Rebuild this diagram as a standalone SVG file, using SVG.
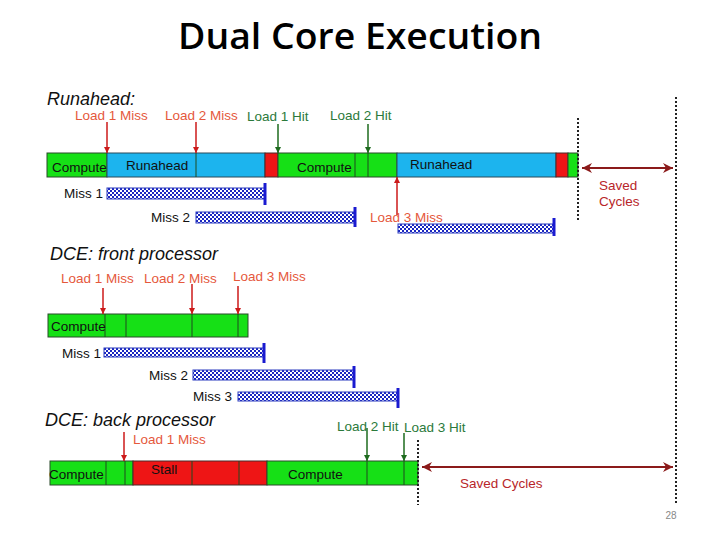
<svg xmlns="http://www.w3.org/2000/svg" width="720" height="540" viewBox="0 0 720 540">
<defs>
<pattern id="chk" width="4" height="4" patternUnits="userSpaceOnUse">
<rect width="4" height="4" fill="#ffffff"/>
<rect width="2" height="2" fill="#1a26c0"/>
<rect x="2" y="2" width="2" height="2" fill="#1a26c0"/>
</pattern>
<marker id="ar" viewBox="0 0 10 10" refX="10" refY="5" markerWidth="4" markerHeight="4" orient="auto"><path d="M0,0 L10,5 L0,10 z" fill="#cc1a1a"/></marker>
<marker id="ag" viewBox="0 0 10 10" refX="10" refY="5" markerWidth="4" markerHeight="4" orient="auto"><path d="M0,0 L10,5 L0,10 z" fill="#1e6b1e"/></marker>
<marker id="ad" viewBox="0 0 10 10" refX="10" refY="5" markerWidth="5" markerHeight="5" orient="auto-start-reverse"><path d="M0,0 L10,5 L0,10 L3,5 z" fill="#8b1a1a"/></marker>
<style>
.t{font-family:"Liberation Sans",Arial,sans-serif;}
.h{font-family:"Liberation Sans",Arial,sans-serif;font-style:italic;font-size:18px;fill:#111;}
.lr{font-size:13.5px;fill:#e5583c;}
.lg{font-size:13.5px;fill:#2b7a3b;}
.lb{font-size:13.5px;fill:#111;}
.g{fill:#16e016;stroke:#2a4a2a;stroke-width:1;}
.b{fill:#1cb4ee;stroke:#2a4a5a;stroke-width:1;}
.r{fill:#ee1515;stroke:#4a2a2a;stroke-width:1;}
.dv{stroke:#1f4a1f;stroke-width:1;}
.m{fill:url(#chk);stroke:#2b3bc0;stroke-width:1;}
.tk{stroke:#1a1ad0;stroke-width:3;}
.ar{stroke:#cc1a1a;stroke-width:1.5;marker-end:url(#ar);}
.ag{stroke:#1e6b1e;stroke-width:1.5;marker-end:url(#ag);}
.dot{stroke:#222;stroke-width:2;stroke-dasharray:2 2;}
.sv{stroke:#8b1a1a;stroke-width:2;marker-start:url(#ad);marker-end:url(#ad);}
.sc{font-size:13.5px;fill:#b8262a;}
</style>
</defs>
<rect width="720" height="540" fill="#ffffff"/>
<text x="360" y="49" text-anchor="middle" font-size="36" font-weight="600" fill="#000" font-family="'Open Sans','Liberation Sans',sans-serif" textLength="364" lengthAdjust="spacingAndGlyphs">Dual Core Execution</text>

<g id="runahead">
<text class="h" x="47" y="105">Runahead:</text>
<g id="ra-bar">
<rect class="g" x="47" y="153" width="60" height="24"/>
<rect class="b" x="107" y="153" width="158" height="24"/>
<line class="dv" x1="196" y1="153" x2="196" y2="177"/>
<rect class="r" x="265" y="153" width="13" height="24"/>
<rect class="g" x="278" y="153" width="119" height="24"/>
<line class="dv" x1="355" y1="153" x2="355" y2="177"/>
<line class="dv" x1="368" y1="153" x2="368" y2="177"/>
<rect class="b" x="397" y="153" width="159" height="24"/>
<rect class="r" x="556" y="153" width="12" height="24"/>
<rect class="g" x="568" y="153" width="10" height="24"/>
<text class="t lb" x="52" y="172">Compute</text>
<text class="t lb" x="126" y="170">Runahead</text>
<text class="t lb" x="297" y="172">Compute</text>
<text class="t lb" x="410" y="169">Runahead</text>
</g>
<g id="ra-miss">
<rect class="m" x="107" y="188" width="158" height="11"/>
<line class="tk" x1="265" y1="183" x2="265" y2="205"/>
<text class="t lb" x="103" y="198" text-anchor="end">Miss 1</text>
<rect class="m" x="196" y="212" width="159" height="11"/>
<line class="tk" x1="355" y1="207" x2="355" y2="227"/>
<text class="t lb" x="190" y="222" text-anchor="end">Miss 2</text>
<rect class="m" x="398" y="224" width="156" height="9"/>
<line class="tk" x1="554" y1="218" x2="554" y2="236"/>
</g>
<g id="ra-labels">
<text class="t lr" x="75" y="120">Load 1 Miss</text>
<text class="t lr" x="165" y="120">Load 2 Miss</text>
<text class="t lg" x="247" y="121">Load 1 Hit</text>
<text class="t lg" x="330" y="120">Load 2 Hit</text>
<text class="t lr" x="370" y="222">Load 3 Miss</text>
<text class="t sc" x="599" y="190">Saved</text>
<text class="t sc" x="599" y="206">Cycles</text>
</g>
</g>

<g id="front">
<text class="h" x="50" y="260">DCE: front processor</text>
<rect class="g" x="48" y="314" width="200" height="23"/>
<line class="dv" x1="105" y1="314" x2="105" y2="337"/>
<line class="dv" x1="126" y1="314" x2="126" y2="337"/>
<line class="dv" x1="192" y1="314" x2="192" y2="337"/>
<line class="dv" x1="238" y1="314" x2="238" y2="337"/>
<text class="t lb" x="51" y="331" fill="#222">Compute</text>
<text class="t lr" x="61" y="283">Load 1 Miss</text>
<text class="t lr" x="144" y="283">Load 2 Miss</text>
<text class="t lr" x="233" y="281">Load 3 Miss</text>
<rect class="m" x="104" y="348" width="160" height="9"/>
<line class="tk" x1="264" y1="343" x2="264" y2="363"/>
<text class="t lb" x="101" y="358" text-anchor="end">Miss 1</text>
<rect class="m" x="193" y="370" width="161" height="10"/>
<line class="tk" x1="354" y1="366" x2="354" y2="388"/>
<text class="t lb" x="188" y="380" text-anchor="end">Miss 2</text>
<rect class="m" x="238" y="392" width="160" height="9"/>
<line class="tk" x1="398" y1="388" x2="398" y2="408"/>
<text class="t lb" x="232" y="401" text-anchor="end">Miss 3</text>
</g>

<g id="back">
<text class="h" x="45" y="426">DCE: back processor</text>
<rect class="g" x="50" y="461" width="83" height="24"/>
<line class="dv" x1="106" y1="461" x2="106" y2="485"/>
<line class="dv" x1="125" y1="461" x2="125" y2="485"/>
<rect class="r" x="133" y="461" width="134" height="24"/>
<line class="dv" x1="192" y1="461" x2="192" y2="485"/>
<line class="dv" x1="239" y1="461" x2="239" y2="485"/>
<rect class="g" x="267" y="461" width="151" height="24"/>
<line class="dv" x1="367" y1="461" x2="367" y2="485"/>
<line class="dv" x1="404" y1="461" x2="404" y2="485"/>
<text class="t lb" x="49" y="479" fill="#222">Compute</text>
<text class="t lb" x="151" y="474" fill="#5a1010">Stall</text>
<text class="t lb" x="288" y="479" fill="#222">Compute</text>
<text class="t lr" x="133" y="444">Load 1 Miss</text>
<text class="t lg" x="337" y="431">Load 2 Hit</text>
<text class="t lg" x="404" y="432">Load 3 Hit</text>
<text class="t sc" x="460" y="488">Saved Cycles</text>
</g>

<g id="connectors">
<line class="ar" x1="107" y1="122" x2="107" y2="153"/>
<line class="ar" x1="196" y1="122" x2="196" y2="153"/>
<line class="ag" x1="278" y1="124" x2="278" y2="153"/>
<line class="ag" x1="368" y1="124" x2="368" y2="153"/>
<line class="ar" x1="397" y1="215" x2="397" y2="177"/>
<line class="ar" x1="103" y1="288" x2="103" y2="314"/>
<line class="ar" x1="192" y1="284" x2="192" y2="314"/>
<line class="ar" x1="238" y1="286" x2="238" y2="314"/>
<line class="ar" x1="124" y1="432" x2="124" y2="461"/>
<line class="ag" x1="367" y1="428" x2="367" y2="461"/>
<line class="ag" x1="404" y1="433" x2="404" y2="461"/>
<line class="dot" x1="578" y1="118" x2="578" y2="220"/>
<line class="dot" x1="676" y1="97" x2="676" y2="505"/>
<line class="dot" x1="418" y1="440" x2="418" y2="505"/>
<line class="sv" x1="582" y1="168" x2="673" y2="168"/>
<line class="sv" x1="422" y1="467" x2="673" y2="467"/>
</g>
<text class="t" x="671" y="519" font-size="10" fill="#888" text-anchor="middle">28</text>
</svg>
